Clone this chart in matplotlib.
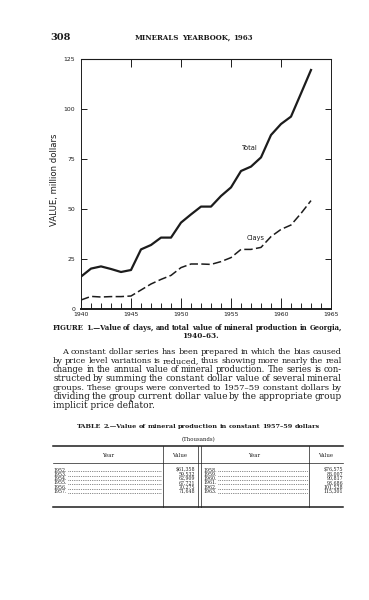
import matplotlib
matplotlib.use('Agg')
import matplotlib.pyplot as plt
from matplotlib.lines import Line2D

# chart data (million dollars)
years = list(range(1940, 1964))
total = [16.2, 20.2, 21.3, 20.0, 18.5, 19.5, 29.8, 32.0, 35.7, 35.7, 43.2, 47.3,
         51.2, 51.2, 56.5, 60.8, 69.0, 71.2, 75.8, 87.0, 92.5, 96.2, 107.8, 119.5]
clays = [4.5, 6.3, 6.0, 6.2, 6.2, 6.5, 9.5, 12.5, 14.8, 16.8, 20.7, 22.5,
         22.5, 22.3, 23.7, 25.7, 29.8, 29.8, 30.8, 36.2, 39.8, 42.0, 47.8, 54.2]
x_ticks = [1940, 1945, 1950, 1955, 1960, 1965]
y_ticks = [0, 25, 50, 75, 100, 125]

# table 2
tab_years_l = ['1952', '1953', '1954', '1955', '1956', '1957']
tab_vals_l = ['$61,358', '59,532', '62,909', '67,721', '70,275', '71,648']
tab_years_r = ['1958', '1959', '1960', '1961', '1962', '1963']
tab_vals_r = ['$76,575', '86,007', '90,817', '93,686', '101,528', '115,301']

paragraph = [
    'A constant dollar series has been prepared in which the bias caused',
    'by price level variations is reduced, thus showing more nearly the real',
    'change in the annual value of mineral production.  The series is con-',
    'structed by summing the constant dollar value of several mineral',
    'groups.  These groups were converted to 1957\u201359 constant dollars by',
    'dividing the group current dollar value by the appropriate group',
    'implicit price deflator.',
]

W, H = 369, 600
INK = '#1c1c1c'


def fx(x):
    return x / W


def fy(y):
    return 1 - y / H


fig = plt.figure(figsize=(W / 100, H / 100), dpi=100)
fig.patch.set_facecolor('white')
renderer = fig.canvas.get_renderer()


def justify(line, x0, x1, y, fontsize, mingap=2.0, **kw):
    '''spread the words of one line from x0 to x1 (pixels), shrink if too long'''
    words = line.split()
    arts = [fig.text(0, fy(y), w, va='baseline', color=INK, fontsize=fontsize, **kw)
            for w in words]
    ws = [a.get_window_extent(renderer).width for a in arts]
    n = max(len(words) - 1, 1)
    if x1 - x0 - sum(ws) < mingap * n:
        fs = fontsize * (x1 - x0 - mingap * n) / sum(ws)
        for a in arts:
            a.set_fontsize(fs)
        ws = [a.get_window_extent(renderer).width for a in arts]
    gap = (x1 - x0 - sum(ws)) / n
    x = x0
    for a, w in zip(arts, ws):
        a.set_x(fx(x))
        x += w + gap


def hline(x0, x1, y, lw):
    fig.add_artist(Line2D([fx(x0), fx(x1)], [fy(y), fy(y)], lw=lw, color=INK))


def vline(x, y0, y1, lw):
    fig.add_artist(Line2D([fx(x), fx(x)], [fy(y0), fy(y1)], lw=lw, color=INK))


''' page header '''
fig.text(fx(50), fy(40), '308', fontsize=7, fontweight='bold', family='DejaVu Serif',
         va='baseline', color=INK)
justify('MINERALS YEARBOOK, 1963', 135, 253, 40, 5.0, family='DejaVu Serif',
        fontweight='bold')

''' chart '''
ax = fig.add_axes([fx(81), fy(309), fx(331) - fx(81), fy(59) - fy(309)])
ax.plot(years, total, color=INK, lw=1.6, solid_joinstyle='round')
ln, = ax.plot(years, clays, color=INK, lw=1.1)
ln.set_dashes((5.5, 2.2))
ax.set_xlim(1940, 1965)
ax.set_ylim(0, 125)

ax.set_xticks(x_ticks)
ax.set_xticklabels([str(t) for t in x_ticks])
ax.set_xticks(years + [1964], minor=True)
ax.set_yticks(y_ticks)
ax.set_yticklabels([str(t) for t in y_ticks])
ax.tick_params(axis='x', which='major', direction='in', length=8, width=0.7,
               labelsize=4.4, pad=2, colors=INK)
ax.tick_params(axis='x', which='minor', direction='in', length=4.3, width=0.6)
ax.tick_params(axis='y', direction='in', length=4.3, width=0.7, right=True,
               labelsize=4.4, pad=4, colors=INK)
for s in ax.spines.values():
    s.set_linewidth(0.7)
    s.set_color(INK)
ax.spines['bottom'].set_linewidth(1.4)

top = ax.secondary_xaxis('top')
top.set_xticks([1945, 1950, 1955, 1960])
top.tick_params(direction='in', length=5.8, width=0.7, labeltop=False, colors=INK)

ax.text(1956.9, 80.5, 'Total', fontsize=4.8, ha='center', va='center', color=INK)
ax.text(1957.5, 35.3, 'Clays', fontsize=4.8, ha='center', va='center', color=INK)
fig.text(fx(55), fy(180), 'VALUE, million dollars', rotation=90, fontsize=6.1,
         ha='center', va='center', color=INK)

''' caption and text '''
justify('FIGURE 1.\u2014Value of clays, and total value of mineral production in Georgia,',
        53, 342, 330, 5.8, family='DejaVu Serif', fontweight='bold')
fig.text(fx(200), fy(337.5), '1940\u201363.', fontsize=5.2, family='DejaVu Serif',
         fontweight='bold', ha='center', va='baseline', color=INK)

for i, line in enumerate(paragraph):
    y = 354.5 + 8.85 * i
    x0 = 62 if i == 0 else 53
    if i == len(paragraph) - 1:
        fig.text(fx(x0), fy(y), line, fontsize=6.5, family='DejaVu Serif',
                 va='baseline', color=INK)
    else:
        justify(line, x0, 342, y, 6.5, family='DejaVu Serif')

''' table '''
justify('TABLE 2.\u2014Value of mineral production in constant 1957\u201359 dollars',
        77, 320, 428, 5.2, family='DejaVu Serif', fontweight='bold')
fig.text(fx(198), fy(441), '(Thousands)', fontsize=3.9, family='DejaVu Serif',
         ha='center', va='baseline', color=INK)

hline(53, 343, 446, 1.1)
hline(53, 343, 462.5, 0.5)
hline(53, 343, 507, 1.1)
for xv in [162.7, 197.5, 200.5, 309.3]:
    vline(xv, 446, 507, 0.5)

for xh, lab in [(108, 'Year'), (180, 'Value'), (254, 'Year'), (326, 'Value')]:
    fig.text(fx(xh), fy(457), lab, fontsize=3.9, family='DejaVu Serif',
             ha='center', va='baseline', color=INK)

for i in range(len(tab_years_l)):
    y = 471.5 + 4.3 * i
    for yr, val, xl, xe, xv in [(tab_years_l[i], tab_vals_l[i], 53, 161, 195.5),
                                (tab_years_r[i], tab_vals_r[i], 203, 308, 343)]:
        t = fig.text(fx(xl), fy(y), yr + '.', fontsize=3.4, family='DejaVu Serif',
                     va='baseline', color=INK)
        xs = xl + t.get_window_extent(renderer).width + 1
        fig.add_artist(Line2D([fx(xs), fx(xe)], [fy(y - 0.2), fy(y - 0.2)], lw=0.5,
                              ls=(0, (1, 1.6)), color=INK))
        fig.text(fx(xv), fy(y), val, fontsize=3.4, family='DejaVu Serif',
                 ha='right', va='baseline', color=INK)

fig.savefig('out.png', dpi=100)
